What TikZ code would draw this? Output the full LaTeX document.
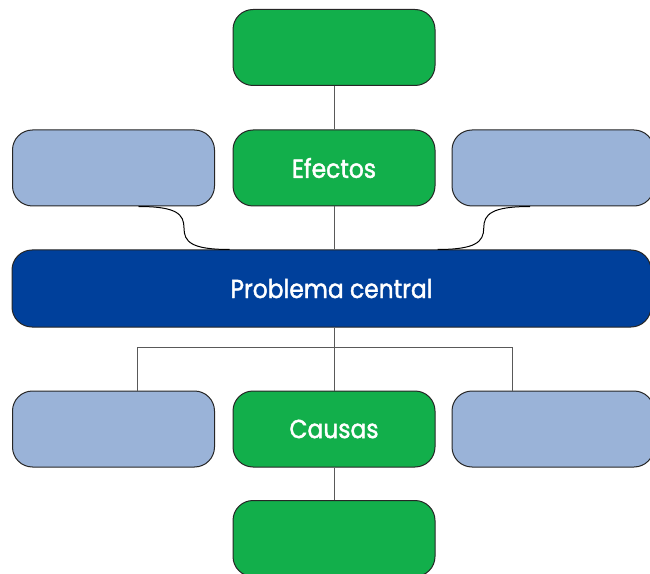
\documentclass[tikz,border=0pt]{standalone}
\usepackage{fontspec}
\setmainfont[FakeStretch=0.9, FakeBold=1.6]{Poppins}
\usetikzlibrary{calc,positioning}
\definecolor{verdeCaja}{HTML}{12AF4B}
\definecolor{azulClaro}{HTML}{9AB3D8}
\definecolor{azulOscuro}{HTML}{00409B}

\begin{document}
\begin{tikzpicture}[x=0.75pt, y=-0.75pt,
	caja/.style={draw=black!85, line width=0.75pt, rounded corners=15pt, inner sep=0pt,
		minimum height=57pt, text=white, font=\fontsize{19.5}{22}\selectfont},
	cajaVerde/.style={caja, fill=verdeCaja, minimum width=151.5pt},
	cajaClara/.style={caja, fill=azulClaro, minimum width=151.5pt},
	linea/.style={draw=black!65, line width=0.75pt},
	curva/.style={draw=black, line width=0.75pt}]
			%%%%% START %%%%%
			
			\useasboundingbox (0, 0) rectangle (650, 574);
			
			\node[cajaVerde] (arriba) at (334, 47.5) {};
			
			\node[cajaClara] (efIzq) at (113.5, 168) {};
			\node[cajaVerde] (efectos) at (334, 168) {Efectos};
			\node[cajaClara] (efDer) at (553, 168) {};
			
			\node[caja, fill=azulOscuro, minimum width=479.25pt, minimum height=57.75pt] (problema) at (331.5, 288.5) {\raisebox{-1pt}{Problema central}};
			
			\node[cajaClara] (caIzq) at (113.5, 429) {};
			\node[cajaVerde] (causas) at (334, 429) {\raisebox{-1pt}{Causas}};
			\node[cajaClara] (caDer) at (553, 429) {};
			
			\node[cajaVerde] (abajo) at (334, 538.5) {};
			
			\draw[linea] (arriba) -- (efectos);
			\draw[linea] (efectos.south) -- (efectos.south |- problema.north);
			
			\coordinate (a1) at ($(efIzq.south)+(25, 0)$);
			\coordinate (b1) at ($(problema.north west)+(218, 0)$);
			\draw[curva] (a1) .. controls +(38, 0) and +(0, -14) .. ($(a1)!0.5!(b1)$) .. controls +(0, 14) and +(-38, 0) .. (b1);
			
			\coordinate (a2) at ($(efDer.south)+(-23, 0)$);
			\coordinate (b2) at ($(problema.north east)+(-214, 0)$);
			\draw[curva] (a2) .. controls +(-38, 0) and +(0, -14) .. ($(a2)!0.5!(b2)$) .. controls +(0, 14) and +(38, 0) .. (b2);
			
			\draw[linea] (causas.north |- problema.south) -- (causas.north);
			\draw[linea] ($(caIzq.north)+(24, 0)$) -- ++(0, -43) -| ($(caDer.north)+(-41, 0)$);
			\draw[linea] (causas) -- (abajo);
			
			%%%%% END %%%%%
\end{tikzpicture}
\end{document}
